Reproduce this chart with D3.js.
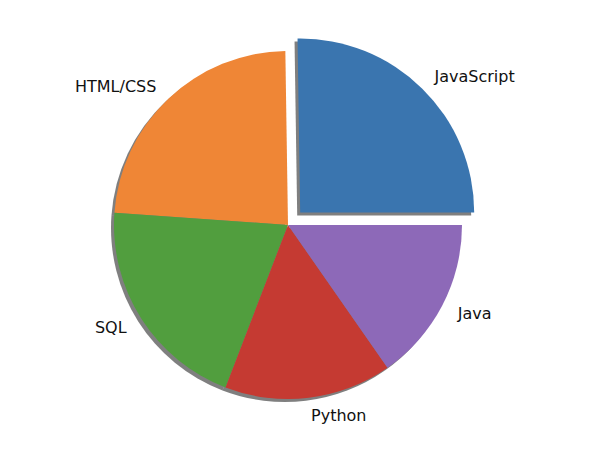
<!DOCTYPE html><html><head><script src="https://cdn.jsdelivr.net/npm/d3@7"></script></head>
<body style="margin:0;background:#fff"><svg id="c" width="590" height="454"></svg>
<script>
const labels=["JavaScript","HTML/CSS","SQL","Python","Java"];
const values=[59219,55466,47544,36443,35917];
const explode=[0.1,0,0,0,0];
const colors=["#3a75af","#ef8636","#519e3e","#c53a32","#8d69b8"];
const cx=288,cy=225,r=174;
const svg=d3.select("#c");
const pie=d3.pie().sort(null).startAngle(Math.PI/2).endAngle(Math.PI/2-2*Math.PI)(values);
// d3 angles: 0 at top, clockwise. Matplotlib startangle 0 (3 o'clock) counterclockwise.
const arc=d3.arc().innerRadius(0).outerRadius(r);
function off(d,i){const m=(d.startAngle+d.endAngle)/2;return [Math.sin(m)*explode[i]*r,-Math.cos(m)*explode[i]*r];}
const g=svg.append("g").attr("transform",`translate(${cx},${cy})`);
g.selectAll(".s").data(pie).join("path").attr("d",d=>arc({startAngle:d.endAngle,endAngle:d.startAngle}))
 .attr("transform",(d,i)=>{const o=off(d,i);return `translate(${o[0]-3},${o[1]+3})`;}).attr("fill","#000").attr("opacity",0.5);
g.selectAll(".w").data(pie).join("path").attr("d",d=>arc({startAngle:d.endAngle,endAngle:d.startAngle}))
 .attr("transform",(d,i)=>{const o=off(d,i);return `translate(${o[0]},${o[1]})`;}).attr("fill",(d,i)=>colors[i]);
g.selectAll("text").data(pie).join("text").each(function(d,i){
 const m=(d.startAngle+d.endAngle)/2, rr=r*(1.1+explode[i]);
 const x=Math.sin(m)*rr,y=-Math.cos(m)*rr;
 d3.select(this).attr("x",x).attr("y",y).attr("dy","0.35em").attr("text-anchor",x>0?"start":"end").text(labels[i]);
}).attr("font-family","DejaVu Sans").attr("font-size",16).attr("fill","#111");
</script></body></html>
